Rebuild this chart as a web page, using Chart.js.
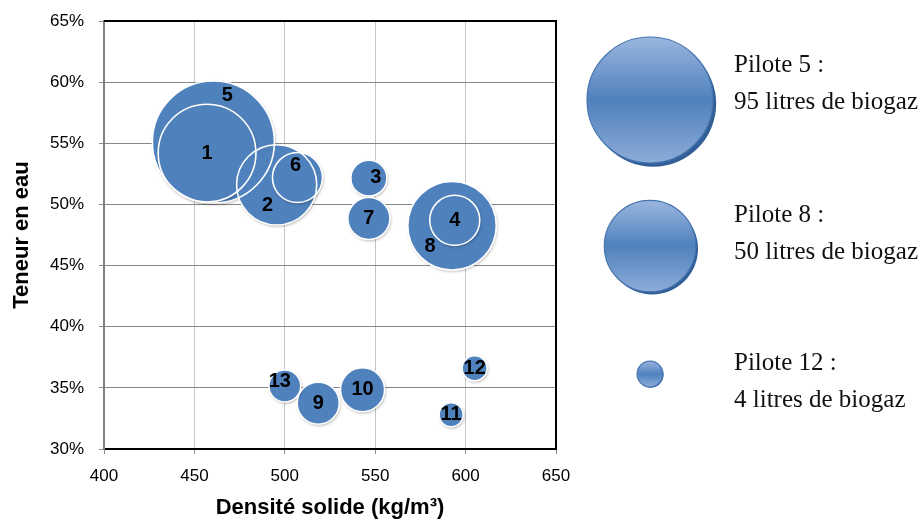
<!DOCTYPE html>
<html>
<head>
<meta charset="utf-8">
<script src="https://cdn.jsdelivr.net/npm/chart.js@4.4.1/dist/chart.umd.min.js"></script>
<style>
  html, body { margin: 0; background: #fff; }
  #wrap { position: relative; width: 922px; height: 521px; }
</style>
</head>
<body>
<div id="wrap"><canvas id="chart" width="922" height="521"></canvas></div>
<script>
// ---- data ----
var pilots   = ['1', '2', '3', '4', '5', '6', '7', '8', '9', '10', '11', '12', '13'];
var density  = [457, 495.5, 546.5, 594, 460.5, 507, 546.5, 592.5, 518.5, 543, 592, 605, 500];      // kg/m3
var moisture = [54.2, 51.6, 52.15, 48.7, 55.1, 52.2, 48.85, 48.25, 33.75, 34.85, 32.8, 36.6, 35.15]; // %
var biogas   = [61, 41, 8.3, 16, 95, 16, 11.3, 50, 11.3, 12.4, 3.7, 4, 6.5];                      // litres
var xTicks   = [400, 450, 500, 550, 600, 650];
var yTicks   = [30, 35, 40, 45, 50, 55, 60, 65];
var legendPilots = ['5', '8', '12'];

// ---- style ----
var BLUE = '#4f81bd';
var R_MAX = 61;          // px radius of the largest bubble in the plot
var LEGEND_R_MAX = 63;   // px radius of the largest legend bubble
var LABEL_SHIFT = { '5': [14, -47], '2': [-9, 21], '6': [-2, -12], '3': [7, -1], '8': [-22, 21], '13': [-5, -5] };

Chart.defaults.font.family = "'Liberation Sans', Arial, sans-serif";
Chart.defaults.color = '#000';

var vMax = Math.max.apply(null, biogas);
function radius(v, rMax) { return rMax * Math.sqrt(v / vMax); }

// big bubbles first so the small ones sit on top
var order = pilots.map(function (p, i) { return i; })
  .sort(function (a, b) { return biogas[b] - biogas[a]; });

function bubblePoints() {
  return order.map(function (i) {
    return { x: density[i], y: moisture[i], r: radius(biogas[i], R_MAX) };
  });
}

var framePlugin = {
  id: 'frame',
  beforeDatasetsDraw: function (chart) {
    var a = chart.chartArea, ctx = chart.ctx;
    ctx.save();
    ctx.strokeStyle = '#000';
    ctx.lineWidth = 2;
    ctx.beginPath();
    ctx.moveTo(a.left, a.top);
    ctx.lineTo(a.right, a.top);
    ctx.lineTo(a.right, a.bottom);
    ctx.stroke();
    ctx.restore();
  },
  beforeDatasetDraw: function (chart, args) {
    if (args.index !== 0) return;
    var ctx = chart.ctx;
    ctx.save();
    ctx.shadowColor = 'rgba(0,0,0,0.3)';
    ctx.shadowBlur = 3;
    ctx.shadowOffsetX = 1;
    ctx.shadowOffsetY = 1.5;
  },
  afterDatasetDraw: function (chart, args) {
    if (args.index === 0) chart.ctx.restore();
  },
  afterDatasetsDraw: function (chart) {
    var ctx = chart.ctx;
    var meta = chart.getDatasetMeta(0);
    ctx.save();
    ctx.fillStyle = '#000';
    ctx.font = "bold 20px 'Liberation Sans', Arial, sans-serif";
    ctx.textAlign = 'center';
    ctx.textBaseline = 'middle';
    meta.data.forEach(function (el, j) {
      var p = pilots[order[j]];
      var s = LABEL_SHIFT[p] || [0, 0];
      ctx.fillText(p, el.x + s[0], el.y + s[1]);
    });
    ctx.restore();
  }
};

var legendPlugin = {
  id: 'sizeLegend',
  afterDraw: function (chart) {
    var ctx = chart.ctx;
    var cx = 650, cys = [100, 246, 374], baselines = [72, 222, 370];
    legendPilots.forEach(function (p, k) {
      var v = biogas[pilots.indexOf(p)];
      var r = radius(v, LEGEND_R_MAX), cy = cys[k];
      ctx.save();
      ctx.fillStyle = '#335f98';
      ctx.beginPath();
      ctx.arc(cx + r * 0.05, cy + r * 0.06, r, 0, Math.PI * 2);
      ctx.fill();
      var g = ctx.createLinearGradient(0, cy - r, 0, cy + r);
      g.addColorStop(0, '#9ab6de');
      g.addColorStop(0.5, '#4f81bd');
      g.addColorStop(1, '#8dacd8');
      ctx.fillStyle = g;
      ctx.beginPath();
      ctx.arc(cx, cy, r, 0, Math.PI * 2);
      ctx.fill();
      ctx.strokeStyle = '#4675b0';
      ctx.lineWidth = 1.2;
      ctx.stroke();
      ctx.fillStyle = '#111';
      ctx.font = "25px 'Liberation Serif', 'Times New Roman', serif";
      ctx.textAlign = 'left';
      ctx.textBaseline = 'alphabetic';
      ctx.fillText('Pilote ' + p + ' :', 734, baselines[k]);
      ctx.fillText(Math.round(v) + ' litres de biogaz', 734, baselines[k] + 37);
      ctx.restore();
    });
  }
};

new Chart(document.getElementById('chart'), {
  type: 'bubble',
  data: {
    datasets: [{
      // fills (drawn first)
      data: bubblePoints(),
      order: 1,
      backgroundColor: BLUE,
      borderWidth: 0,
      hoverBorderWidth: 0
    }, {
      // white outlines, all on top of the fills
      data: bubblePoints(),
      order: 0,
      backgroundColor: 'rgba(0,0,0,0)',
      borderColor: '#ffffff',
      borderWidth: 1.6,
      hoverBorderWidth: 1.6
    }]
  },
  options: {
    responsive: false,
    animation: false,
    events: [],
    layout: { autoPadding: false, padding: { left: 0, top: 21, right: 366, bottom: 0 } },
    plugins: { legend: { display: false }, tooltip: { enabled: false } },
    scales: {
      x: {
        type: 'linear',
        min: xTicks[0], max: xTicks[xTicks.length - 1],
        ticks: { stepSize: xTicks[1] - xTicks[0], padding: 12, font: { size: 17 } },
        grid: { color: '#c4c4c4', tickColor: '#8a8a8a', tickLength: 5 },
        border: { color: '#000', width: 2 },
        title: {
          display: true, text: 'Densité solide (kg/m³)',
          font: { size: 22, weight: 'bold' }, padding: { top: 0, bottom: 0 }
        },
        afterFit: function (s) { s.height = 72; s.paddingLeft = 0; s.paddingRight = 0; }
      },
      y: {
        type: 'linear',
        min: yTicks[0], max: yTicks[yTicks.length - 1],
        ticks: {
          stepSize: yTicks[1] - yTicks[0], padding: 15, font: { size: 17 },
          callback: function (v) { return v + '%'; }
        },
        grid: { color: '#868686', tickColor: '#8a8a8a', tickLength: 5 },
        border: { color: '#808080', width: 2 },
        title: {
          display: true, text: 'Teneur en eau',
          font: { size: 22, weight: 'bold' }, padding: { top: 9, bottom: 0 }
        },
        afterFit: function (s) { s.width = 104; s.paddingTop = 0; s.paddingBottom = 0; }
      }
    }
  },
  plugins: [framePlugin, legendPlugin]
});
</script>
</body>
</html>
